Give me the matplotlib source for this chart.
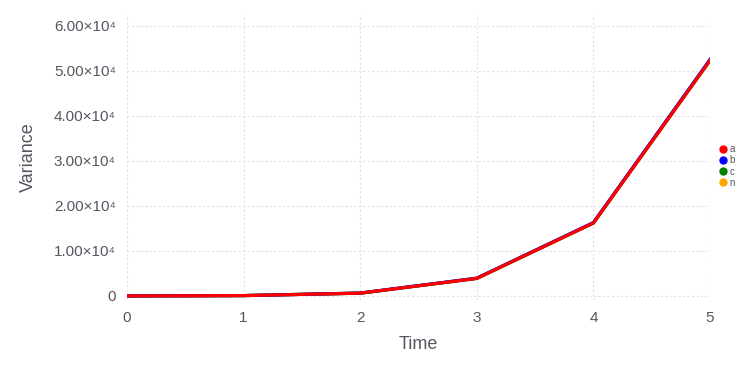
import matplotlib
matplotlib.use('Agg')
import matplotlib.pyplot as plt
from matplotlib.lines import Line2D
from matplotlib.ticker import FuncFormatter

plt.rcParams['font.family'] = ['Liberation Sans', 'DejaVu Sans']

time = [0, 1, 2, 3, 4, 5]
series_names = ['a', 'b', 'c', 'n']
series_colors = ['red', 'blue', 'green', 'orange']
var_a = [0, 80, 620, 3900, 16200, 52300]
var_b = [0, 80, 640, 3950, 16300, 52500]
var_c = [0, 80, 620, 3900, 16200, 52300]
var_n = [0, 80, 620, 3900, 16200, 52300]
values = [var_a, var_b, var_c, var_n]

TEXT = '#5a5360'
GRID = '#e0e0ea'

fig = plt.figure(figsize=(7.56, 3.78), dpi=100)
ax = fig.add_axes([127 / 756, 1 - 300 / 378, (710 - 127) / 756, 285 / 378])

# draw in reverse so "a" ends on top
for name, col, v in reversed(list(zip(series_names, series_colors, values))):
    ax.plot(time, v, color=col, linewidth=2.3, solid_joinstyle='miter')

ax.set_xlim(0, 5)
ax.set_ylim(-900, 62400)
ax.set_xticks(time)
ax.set_yticks([0, 10000, 20000, 30000, 40000, 50000, 60000])


def fmt(y, pos):
    if y == 0:
        return '0'
    return f"{y / 1e4:.2f}×10⁴"


ax.yaxis.set_major_formatter(FuncFormatter(fmt))
ax.tick_params(length=0, labelsize=11, labelcolor=TEXT, pad=8)
ax.grid(True, color=GRID, linestyle=(0, (2, 2)), linewidth=0.8)
for s in ax.spines.values():
    s.set_visible(False)

ax.set_xlabel('Time', fontsize=13, color=TEXT, labelpad=8)
ax.set_ylabel('Variance', fontsize=13, color=TEXT, labelpad=12)

handles = [Line2D([], [], marker='o', linestyle='none', color=c, markersize=5) for c in series_colors]
ax.legend(handles, series_names, loc='center left', bbox_to_anchor=(1.0, 0.47), frameon=False,
          fontsize=7, handletextpad=0.1, labelspacing=0.12, borderaxespad=0.3, handlelength=1.2,
          labelcolor=TEXT)

fig.savefig('out.png', dpi=100)
